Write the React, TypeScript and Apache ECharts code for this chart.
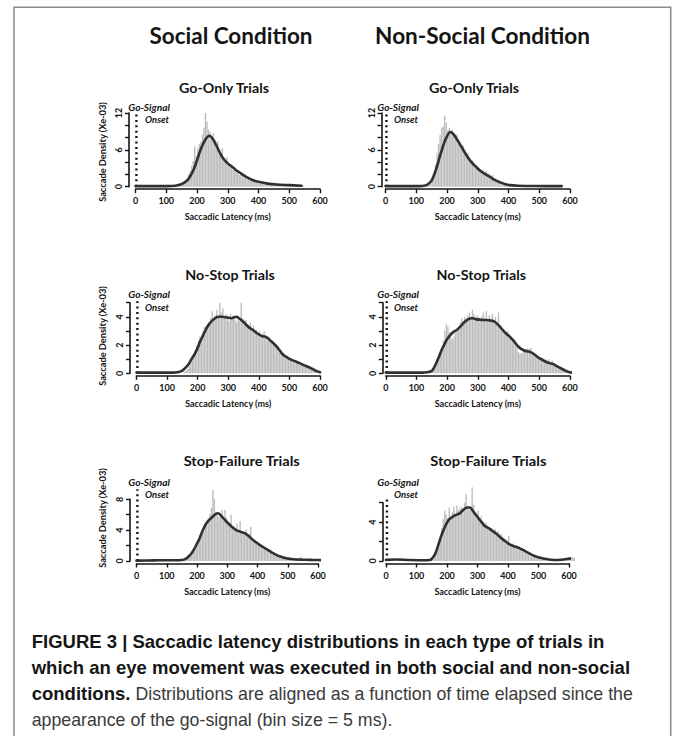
import React, { useEffect, useRef } from "react";
import * as echarts from "echarts";

// ---------------- DATA ----------------
const binSize = 5;
const xTickValues = [0, 100, 200, 300, 400, 500, 600];

// Social condition, Go-Only trials
const goSocialStart = 140;
const goSocialHist = [
  0.2, 0.3, 0.5, 0.8, 1.1, 1.5, 2.0, 2.6, 3.4, 4.2, 6.6, 5.0,
  6.2, 6.9, 7.3, 8.5, 9.6, 12.0, 10.6, 9.3, 8.9, 8.1, 8.7, 7.7,
  6.9, 7.4, 5.8, 5.1, 6.3, 4.5, 4.1, 4.8, 3.7, 3.3, 3.6, 2.7,
  3.1, 2.3, 2.6, 1.9, 2.3, 1.7, 1.5, 1.9, 1.2, 1.4, 1.0, 0.9,
  0.8, 0.7, 0.8, 0.6, 0.5, 0.6, 0.5, 0.4, 0.5, 0.4, 0.4, 0.3,
  0.4, 0.3, 0.3, 0.3, 0.2, 0.3, 0.2, 0.3, 0.2, 0.2, 0.2, 0.2,
  0.2, 0.1, 0.2, 0.2, 0.1, 0.2, 0.1, 0.1, 0.1, 0.1,
];
const goSocialCurve = [
  [0, 0.1], [50, 0.1], [100, 0.1], [130, 0.15], [146, 0.35], [160, 0.7], [170, 1.1],
  [180, 1.9], [190, 2.9], [200, 4.3], [210, 5.8], [220, 7.0], [230, 7.9], [240, 8.3],
  [250, 7.9], [260, 7.0], [270, 6.0], [280, 5.0], [290, 4.3], [300, 3.8], [310, 3.4],
  [320, 3.0], [330, 2.6], [345, 2.1], [360, 1.6], [380, 1.1], [400, 0.8], [430, 0.5],
  [460, 0.35], [500, 0.25], [540, 0.15],
];

// Non-social condition, Go-Only trials
const goNonSocialStart = 135;
const goNonSocialHist = [
  0.1, 0.2, 0.5, 1.0, 2.0, 3.6, 5.4, 7.0, 8.4, 9.6, 9.8, 11.6,
  10.4, 9.2, 9.6, 8.7, 9.3, 8.8, 8.1, 8.5, 7.4, 7.0, 6.3, 6.7,
  5.6, 5.1, 5.4, 4.4, 4.0, 4.3, 3.5, 3.1, 3.4, 2.7, 2.9, 2.4,
  2.8, 2.3, 2.6, 1.9, 2.2, 1.7, 1.9, 1.3, 1.1, 1.0, 0.8, 0.7,
  0.6, 0.5, 0.4, 0.4, 0.3, 0.3, 0.3, 0.2, 0.3, 0.2, 0.2, 0.3,
  0.2, 0.2, 0.1, 0.2, 0.2, 0.1, 0.2, 0.1, 0.2, 0.1, 0.1, 0.2,
  0.1, 0.1, 0.1, 0.2, 0.1, 0.1, 0.1, 0.1, 0.1, 0.1, 0.1, 0.1,
  0.1, 0.1, 0.1, 0.1,
];
const goNonSocialCurve = [
  [0, 0.1], [60, 0.1], [110, 0.1], [125, 0.15], [135, 0.3], [145, 0.7], [152, 1.2],
  [160, 2.2], [168, 3.4], [176, 4.8], [184, 6.1], [192, 7.3], [200, 8.2], [210, 8.9],
  [220, 8.6], [230, 7.9], [240, 7.1], [254, 5.9], [265, 5.0], [276, 4.2], [287, 3.6],
  [297, 3.1], [308, 2.6], [319, 2.2], [330, 1.9], [340, 1.6], [355, 1.1], [373, 0.7],
  [390, 0.4], [405, 0.25], [430, 0.15], [460, 0.12], [520, 0.1], [573, 0.1],
];

// Social condition, No-Stop trials
const noStopSocialStart = 155;
const noStopSocialHist = [
  0.1, 0.2, 0.3, 0.5, 0.7, 1.0, 1.3, 1.6, 2.0, 2.3, 2.6, 2.5,
  3.0, 3.3, 3.1, 3.4, 3.6, 3.9, 4.4, 3.8, 4.1, 4.5, 4.0, 5.0,
  4.3, 4.6, 3.9, 4.2, 4.1, 3.7, 4.2, 4.0, 4.1, 3.8, 3.6, 4.0,
  3.7, 5.0, 3.9, 3.6, 3.8, 3.5, 3.3, 3.6, 3.2, 3.4, 2.9, 3.1,
  2.7, 3.0, 2.6, 2.8, 3.0, 2.5, 2.3, 2.6, 2.2, 2.4, 2.0, 2.1,
  1.8, 1.9, 1.5, 1.6, 1.3, 1.4, 1.1, 1.2, 1.0, 1.1, 0.9, 1.0,
  0.7, 0.9, 0.8, 0.7, 0.8, 0.6, 0.7, 0.5, 0.6, 0.4, 0.5, 0.3,
  0.4, 0.3, 0.2, 0.2, 0.1,
];
const noStopSocialCurve = [
  [0, 0.05], [60, 0.05], [120, 0.05], [135, 0.08], [147, 0.15], [158, 0.35], [169, 0.6],
  [180, 1.0], [191, 1.4], [200, 1.8], [207, 2.2], [218, 2.7], [229, 3.2], [240, 3.55],
  [251, 3.8], [260, 3.95], [267, 4.0], [280, 4.0], [295, 3.95], [311, 3.9], [320, 3.97],
  [327, 4.0], [335, 3.9], [344, 3.75], [352, 3.6], [360, 3.4], [371, 3.2], [382, 3.05],
  [393, 2.85], [404, 2.7], [412, 2.62], [420, 2.6], [428, 2.5], [436, 2.35], [447, 2.15],
  [458, 1.9], [469, 1.6], [480, 1.3], [491, 1.15], [502, 1.0], [513, 0.9], [524, 0.8],
  [535, 0.7], [545, 0.6], [556, 0.5], [567, 0.4], [578, 0.28], [589, 0.15], [600, 0.07],
];

// Non-social condition, No-Stop trials
const noStopNonSocialStart = 150;
const noStopNonSocialHist = [
  0.1, 0.3, 0.5, 0.8, 1.1, 1.5, 1.9, 2.3, 3.0, 3.5, 3.3, 2.9,
  2.6, 2.4, 2.6, 2.9, 3.0, 3.3, 3.6, 3.9, 3.7, 4.0, 3.8, 4.1,
  4.3, 4.0, 4.5, 4.2, 3.8, 4.1, 4.0, 3.7, 4.0, 4.3, 3.9, 4.4,
  3.8, 4.1, 3.9, 4.2, 3.7, 4.0, 3.6, 4.3, 3.4, 3.3, 3.1, 3.0,
  2.9, 3.0, 2.8, 2.6, 2.5, 2.3, 2.1, 1.9, 1.5, 1.4, 1.4, 1.5,
  1.6, 1.7, 1.8, 1.7, 1.8, 1.6, 1.5, 1.4, 1.3, 1.2, 1.1, 1.0,
  1.1, 0.9, 1.0, 0.9, 1.0, 0.8, 0.9, 0.7, 0.6, 0.6, 0.5, 0.5,
  0.4, 0.3, 0.3, 0.2, 0.2, 0.1,
];
const noStopNonSocialCurve = [
  [0, 0.05], [60, 0.05], [120, 0.05], [135, 0.08], [149, 0.15], [157, 0.4], [165, 0.75],
  [174, 1.2], [182, 1.65], [190, 2.0], [198, 2.35], [206, 2.6], [214, 2.8], [222, 2.95],
  [230, 3.05], [238, 3.2], [247, 3.4], [255, 3.6], [263, 3.75], [271, 3.85], [279, 3.9],
  [288, 3.88], [296, 3.82], [306, 3.8], [317, 3.78], [328, 3.78], [339, 3.75], [347, 3.72],
  [355, 3.65], [363, 3.5], [372, 3.3], [382, 3.05], [393, 2.8], [404, 2.6], [415, 2.35],
  [424, 2.1], [432, 1.9], [440, 1.75], [448, 1.65], [456, 1.58], [464, 1.55], [472, 1.5],
  [480, 1.4], [491, 1.22], [502, 1.05], [513, 0.92], [524, 0.8], [535, 0.72], [546, 0.65],
  [556, 0.52], [567, 0.4], [578, 0.28], [589, 0.15], [600, 0.07], [605, 0.05],
];

// Social condition, Stop-Failure trials
const stopSocialStart = 160;
const stopSocialHist = [
  0.2, 0.3, 0.4, 0.6, 0.9, 1.4, 1.8, 2.5, 2.7, 2.6, 3.0, 3.4,
  3.8, 4.4, 5.0, 5.6, 6.1, 6.9, 9.2, 8.0, 6.4, 6.1, 5.7, 6.0,
  6.6, 5.4, 6.6, 5.6, 5.0, 4.8, 6.0, 4.3, 4.5, 4.0, 4.9, 3.6,
  5.2, 3.7, 3.8, 3.4, 4.1, 3.3, 3.5, 4.4, 3.0, 2.7, 2.5, 2.3,
  2.4, 2.0, 1.8, 1.6, 1.7, 1.3, 1.4, 1.1, 1.0, 0.9, 0.8, 0.7,
  0.6, 0.6, 0.5, 0.4, 0.4, 0.3, 0.3, 0.3, 0.2, 0.2, 0.3, 0.2,
  0.2, 0.2, 0.3, 0.2, 0.5, 0.2, 0.1, 0.2, 0.1, 0.1, 0.1, 0.1,
  0.1, 0.1, 0.1, 0.1,
];
const stopSocialCurve = [
  [0, 0.05], [60, 0.08], [100, 0.1], [140, 0.1], [155, 0.15], [165, 0.35], [174, 0.65],
  [182, 1.0], [190, 1.5], [198, 2.1], [207, 2.8], [215, 3.6], [223, 4.3], [231, 4.9],
  [240, 5.3], [248, 5.6], [256, 5.9], [264, 6.15], [270, 6.2], [278, 5.95], [286, 5.6],
  [294, 5.25], [303, 4.9], [311, 4.6], [319, 4.3], [328, 4.05], [336, 3.9], [347, 3.75],
  [358, 3.6], [369, 3.3], [380, 2.9], [393, 2.5], [407, 2.1], [421, 1.75], [435, 1.4],
  [448, 1.1], [462, 0.8], [478, 0.55], [495, 0.35], [512, 0.25], [528, 0.2], [550, 0.17],
  [572, 0.15], [600, 0.12], [628, 0.1],
];

// Non-social condition, Stop-Failure trials
const stopNonSocialStart = 150;
const stopNonSocialHist = [
  0.1, 0.3, 0.5, 0.9, 1.5, 2.4, 3.4, 4.3, 5.2, 4.8, 4.4, 5.5,
  4.6, 5.0, 5.6, 4.9, 5.7, 5.2, 5.4, 5.6, 5.0, 6.0, 6.9, 5.6,
  5.3, 5.5, 7.6, 5.8, 5.0, 4.7, 5.2, 4.4, 4.6, 4.1, 3.8, 4.0,
  3.6, 3.5, 3.2, 3.4, 3.0, 3.3, 2.8, 3.1, 2.6, 2.8, 2.3, 2.1,
  2.2, 1.9, 2.6, 1.7, 1.6, 1.8, 1.4, 1.5, 1.2, 1.3, 1.1, 1.0,
  0.9, 0.8, 0.7, 0.7, 0.5, 0.5, 0.4, 0.4, 0.3, 0.3, 0.2, 0.2,
  0.2, 0.2, 0.1, 0.2, 0.1, 0.1, 0.1, 0.1, 0.1, 0.1, 0.1, 0.1,
  0.1, 0.2, 0.2, 0.2, 0.2, 0.3, 0.3, 0.3, 0.4, 0.3,
];
const stopNonSocialCurve = [
  [0, 0.12], [30, 0.15], [80, 0.1], [120, 0.08], [144, 0.1], [152, 0.3], [160, 0.65],
  [168, 1.3], [177, 2.2], [185, 2.9], [193, 3.5], [201, 4.0], [209, 4.35], [218, 4.55],
  [226, 4.7], [234, 4.8], [242, 4.9], [250, 5.15], [259, 5.4], [267, 5.5], [275, 5.5],
  [283, 5.25], [291, 4.9], [300, 4.55], [308, 4.2], [316, 3.9], [324, 3.6], [332, 3.45],
  [340, 3.3], [351, 3.05], [362, 2.8], [373, 2.5], [384, 2.2], [395, 1.95], [406, 1.7],
  [417, 1.55], [428, 1.45], [438, 1.3], [449, 1.15], [460, 0.95], [471, 0.75], [482, 0.58],
  [493, 0.45], [509, 0.3], [526, 0.2], [542, 0.13], [559, 0.1], [575, 0.13], [591, 0.2],
  [605, 0.27], [619, 0.3], [633, 0.22], [646, 0.12],
];

const onsetMs = 3;

// ---------------- TEXTS ----------------
const conditionTitles = ["Social Condition", "Non-Social Condition"];
const trialTitles = ["Go-Only Trials", "Go-Only Trials", "No-Stop Trials", "No-Stop Trials", "Stop-Failure Trials", "Stop-Failure Trials"];
const xName = "Saccadic Latency (ms)";
const yName = "Saccade Density (Xe-03)";
const captionLines = [
  "FIGURE 3 | Saccadic latency distributions in each type of trials in",
  "which an eye movement was executed in both social and non-social",
];
const captionBold3 = "conditions.";
const captionRegular3 = "Distributions are aligned as a function of time elapsed since the";
const captionRegular4 = "appearance of the go-signal (bin size = 5 ms).";

// ---------------- PANELS (data refs + layout) ----------------
const panels = [
  { start: goSocialStart, hist: goSocialHist, curve: goSocialCurve, yMax: 12, yStep: 2, yLabelEvery: 6, onsetTop: 12.3,
    grid: { left: 135.5, top: 113, width: 184.5, height: 73.7 }, yOffset: 6.5, left: true,
    title: { cx: 224, cy: 88, w: 91 }, gs: { x: 128.3, y: 106.7 }, yNameCy: 152 },
  { start: goNonSocialStart, hist: goNonSocialHist, curve: goNonSocialCurve, yMax: 12, yStep: 2, yLabelEvery: 6, onsetTop: 12.3,
    grid: { left: 385.5, top: 113, width: 184.5, height: 73.7 }, yOffset: 4, left: false,
    title: { cx: 474, cy: 88, w: 91 }, gs: { x: 377.3, y: 106.7 } },
  { start: noStopSocialStart, hist: noStopSocialHist, curve: noStopSocialCurve, yMax: 5, yStep: 1, yLabelEvery: 2, onsetTop: 5.1,
    grid: { left: 136.5, top: 302.7, width: 183.5, height: 70.6 }, yOffset: 6.5, left: true,
    title: { cx: 230, cy: 275, w: 90 }, gs: { x: 128.3, y: 294 }, yNameCy: 336 },
  { start: noStopNonSocialStart, hist: noStopNonSocialHist, curve: noStopNonSocialCurve, yMax: 5, yStep: 1, yLabelEvery: 2, onsetTop: 5.1,
    grid: { left: 385.8, top: 302.7, width: 184, height: 70.6 }, yOffset: 3, left: false,
    title: { cx: 481.3, cy: 275, w: 90 }, gs: { x: 377.3, y: 294 } },
  { start: stopSocialStart, hist: stopSocialHist, curve: stopSocialCurve, yMax: 8, yStep: 2, yLabelEvery: 4, onsetTop: 9.3,
    grid: { left: 136.5, top: 499.3, width: 181.5, height: 61.7 }, yOffset: 6.5, left: true,
    title: { cx: 241.7, cy: 461.3, w: 116.7 }, gs: { x: 128.3, y: 481.7 }, yNameCy: 518 },
  { start: stopNonSocialStart, hist: stopNonSocialHist, curve: stopNonSocialCurve, yMax: 6, yStep: 2, yLabelEvery: 4, onsetTop: 6.6,
    grid: { left: 386, top: 502.7, width: 183, height: 58.3 }, yOffset: 3, left: false,
    title: { cx: 488.3, cy: 461.3, w: 116.7 }, gs: { x: 377.3, y: 481.7 } },
];

const PANEL_FONT = "Lato";
const CAPTION_FONT = "'Liberation Sans', Arial, sans-serif";
const INK = "#141414";

function measure(text: string, font: string): number {
  const ctx = document.createElement("canvas").getContext("2d");
  if (!ctx) return 0;
  ctx.font = font;
  return ctx.measureText(text).width;
}

function fittedText(text: string, x: number, y: number, targetW: number, font: string, align: string, rotation = 0, fill = INK) {
  const w = measure(text, font);
  const s = w > 0 && targetW > 0 ? targetW / w : 1;
  return {
    type: "text",
    x, y, rotation, scaleX: s, silent: true,
    style: { text, font, fill, textAlign: align, textVerticalAlign: "middle" },
  };
}

function buildOption() {
  const grids: any[] = [];
  const xAxes: any[] = [];
  const yAxes: any[] = [];
  const series: any[] = [];
  const graphics: any[] = [];

  const axisLineStyle = { color: INK, width: 1.6 };
  const tickStyle = { color: INK, width: 1.4 };
  const labelStyle = { fontSize: 9, fontWeight: "bold", color: INK, fontFamily: PANEL_FONT };

  panels.forEach((p, i) => {
    grids.push({ ...p.grid, containLabel: false });
    xAxes.push({
      type: "value", gridIndex: i, min: 0, max: 600, interval: 100, position: "bottom", offset: 2.5,
      axisLine: { show: true, onZero: false, lineStyle: axisLineStyle },
      axisTick: { show: true, length: 4, lineStyle: tickStyle },
      axisLabel: { ...labelStyle, margin: 7, showMinLabel: true, showMaxLabel: true,
        formatter: (v: number) => (xTickValues.includes(v) ? String(v) : "") },
      splitLine: { show: false },
      name: xName, nameLocation: "middle", nameGap: 23,
      nameTextStyle: { fontSize: 9, fontWeight: "bold", color: INK, fontFamily: PANEL_FONT },
    });
    yAxes.push({
      type: "value", gridIndex: i, min: 0, max: p.yMax, interval: p.yStep, position: "left", offset: p.yOffset,
      axisLine: { show: true, onZero: false, lineStyle: axisLineStyle },
      axisTick: { show: true, length: 4, lineStyle: tickStyle },
      axisLabel: { ...labelStyle, margin: 6, rotate: 90, showMinLabel: true, showMaxLabel: true,
        formatter: (v: number) => (Math.abs(v % p.yLabelEvery) < 1e-9 ? String(v) : "") },
      splitLine: { show: false },
    });
    series.push({
      type: "bar", xAxisIndex: i, yAxisIndex: i, barWidth: 1.35, clip: false, z: 1,
      itemStyle: { color: "#bcbcbc" },
      data: p.hist.map((v, k) => [p.start + k * binSize + binSize / 2, v]),
      silent: true,
    });
    series.push({
      type: "line", xAxisIndex: i, yAxisIndex: i, clip: false, z: 2, showSymbol: false, silent: true,
      lineStyle: { color: INK, width: 2.4, type: [2, 3.4], cap: "butt" },
      data: [[onsetMs, 0], [onsetMs, p.onsetTop]],
    });
    series.push({
      type: "line", xAxisIndex: i, yAxisIndex: i, clip: false, z: 3, showSymbol: false, silent: true,
      smooth: 0.35,
      lineStyle: { color: "#303030", width: 2.6, cap: "round", join: "round" },
      data: p.curve,
    });

    graphics.push(fittedText(trialTitles[i], p.title.cx, p.title.cy, p.title.w, `bold 13px ${PANEL_FONT}`, "center"));
    graphics.push(fittedText("Go-Signal", p.gs.x, p.gs.y, 41.7, `italic bold 10px ${PANEL_FONT}`, "left"));
    graphics.push(fittedText("Onset", p.gs.x + 16.7, p.gs.y + 12.6, 24, `italic bold 10px ${PANEL_FONT}`, "left"));
    if (p.left && p.yNameCy) {
      graphics.push(fittedText(yName, 103, p.yNameCy, 100, `bold 9px ${PANEL_FONT}`, "center", Math.PI / 2));
    }
  });

  // frame
  graphics.unshift({
    type: "rect", silent: true, z: -1,
    shape: { x: 14, y: 7.3, width: 656.7, height: 740 },
    style: { fill: "#ffffff", stroke: "#8a8a8a", lineWidth: 1.5 },
  });

  // condition titles
  graphics.push(fittedText(conditionTitles[0], 231, 35, 163, `bold 23px ${PANEL_FONT}`, "center"));
  graphics.push(fittedText(conditionTitles[1], 482.5, 35, 215, `bold 23px ${PANEL_FONT}`, "center"));

  // caption
  const capBold = `bold 18.5px ${CAPTION_FONT}`;
  const capReg = `normal 18.5px ${CAPTION_FONT}`;
  const regScale = 0.96;
  const capX = 31.7;
  const capY = [641.5, 667.5, 693.5, 719.5];
  captionLines.forEach((t, k) => {
    graphics.push({ type: "text", x: capX, y: capY[k], silent: true,
      style: { text: t, font: capBold, fill: "#161616", textAlign: "left", textVerticalAlign: "middle" } });
  });
  const boldW = measure(captionBold3 + " ", capBold);
  graphics.push({ type: "text", x: capX, y: capY[2], silent: true,
    style: { text: captionBold3, font: capBold, fill: "#161616", textAlign: "left", textVerticalAlign: "middle" } });
  graphics.push({ type: "text", x: capX + boldW, y: capY[2], scaleX: regScale, silent: true,
    style: { text: captionRegular3, font: capReg, fill: "#3a3a3a", textAlign: "left", textVerticalAlign: "middle" } });
  graphics.push({ type: "text", x: capX, y: capY[3], scaleX: regScale, silent: true,
    style: { text: captionRegular4, font: capReg, fill: "#3a3a3a", textAlign: "left", textVerticalAlign: "middle" } });

  return {
    animation: false,
    backgroundColor: "#ffffff",
    grid: grids,
    xAxis: xAxes,
    yAxis: yAxes,
    series,
    graphic: { elements: graphics },
  };
}

export default function App() {
  const ref = useRef<HTMLDivElement>(null);
  useEffect(() => {
    if (!ref.current) return;
    const chart = echarts.init(ref.current, undefined, { renderer: "svg" });
    chart.setOption(buildOption() as any);
    return () => chart.dispose();
  }, []);
  return (
    <div
      ref={ref}
      style={{ position: "fixed", left: 0, top: 0, width: 673, height: 736, background: "#ffffff" }}
    />
  );
}
